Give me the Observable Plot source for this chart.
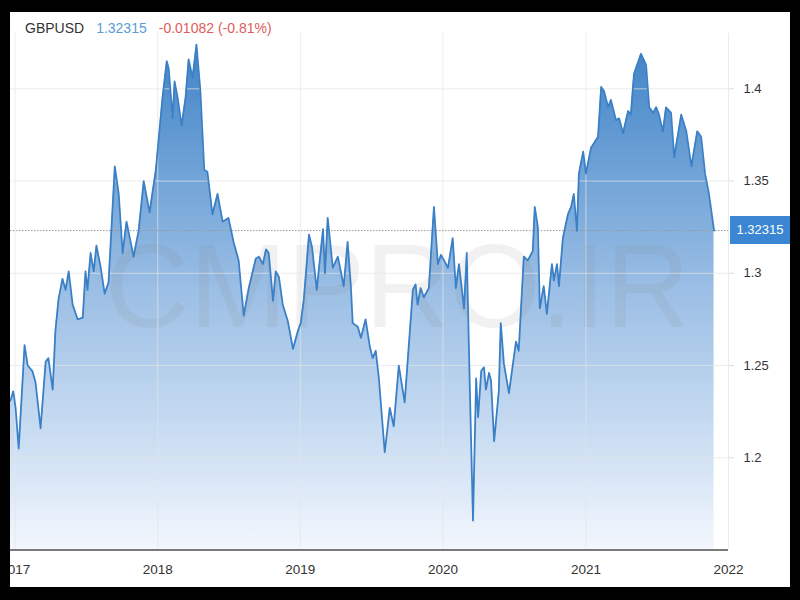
<!DOCTYPE html>
<html>
<head>
<meta charset="utf-8">
<script src="https://cdn.jsdelivr.net/npm/d3@7"></script>
<script src="https://cdn.jsdelivr.net/npm/@observablehq/plot@0.6"></script>
<style>
  html, body { margin: 0; padding: 0; background: #000; width: 800px; height: 600px; overflow: hidden; }
  #frame { position: absolute; left: 10px; top: 12px; width: 780px; height: 575px; background: #fff; overflow: hidden;
           font-family: "Liberation Sans", Arial, sans-serif; }
  #header { position: absolute; left: 15px; top: 8px; font-size: 14px; line-height: 16px; white-space: nowrap; z-index: 3; }
  #header span { margin-right: 12px; }
  #chart { position: absolute; left: 0; top: 0; }
  #pricebox { position: absolute; left: 720px; width: 60px; height: 28px; background: #3a86d3; color: #fff;
              font-size: 13px; line-height: 28px; text-align: center; z-index: 3; }
</style>
</head>
<body>
<div id="frame">
  <div id="header"><span style="color:#333">GBPUSD</span><span style="color:#5b9bd5">1.32315</span><span style="color:#e05c5c">-0.01082 (-0.81%)</span></div>
  <div id="chart"></div>
  <div id="pricebox">1.32315</div>
</div>
<script>
const symbol = "GBPUSD";
const lastPrice = 1.32315;

const dates = [
  "2016-12-20","2016-12-27","2017-01-02","2017-01-10","2017-01-25","2017-02-02","2017-02-14","2017-02-22","2017-03-07","2017-03-20","2017-03-27","2017-04-07","2017-04-14","2017-04-22","2017-05-02","2017-05-10","2017-05-18","2017-05-28","2017-06-10","2017-06-23","2017-06-30","2017-07-05","2017-07-13","2017-07-21","2017-07-28","2017-08-08","2017-08-18","2017-08-28","2017-09-13","2017-09-23","2017-10-03","2017-10-13","2017-10-31","2017-11-13","2017-11-26","2017-12-11","2017-12-27",
  "2018-01-03","2018-01-13","2018-01-24","2018-01-29","2018-02-08","2018-02-13","2018-02-21","2018-03-03","2018-03-13","2018-03-21","2018-03-31","2018-04-10","2018-04-20","2018-04-30","2018-05-08","2018-05-21","2018-06-03","2018-06-16","2018-07-01","2018-07-14","2018-07-27","2018-08-09","2018-08-22","2018-09-09","2018-09-17","2018-09-27","2018-10-05","2018-10-12","2018-10-23","2018-10-30","2018-11-07","2018-11-17","2018-11-30","2018-12-13","2018-12-26",
  "2019-01-02","2019-01-10","2019-01-23","2019-01-31","2019-02-12","2019-02-28","2019-03-05","2019-03-12","2019-03-25","2019-04-07","2019-04-22","2019-05-02","2019-05-10","2019-05-15","2019-05-28","2019-06-05","2019-06-17","2019-06-28","2019-07-05","2019-07-13","2019-07-21","2019-08-05","2019-08-18","2019-08-28","2019-09-10","2019-09-25","2019-10-16","2019-10-23","2019-10-28","2019-11-05","2019-11-13","2019-11-26","2019-12-09","2019-12-19","2019-12-27",
  "2020-01-14","2020-01-26","2020-02-03","2020-02-11","2020-02-24","2020-03-02","2020-03-10","2020-03-18","2020-03-26","2020-03-31","2020-04-08","2020-04-15","2020-04-20","2020-04-28","2020-05-03","2020-05-11","2020-05-23","2020-05-28","2020-06-05","2020-06-18","2020-07-06","2020-07-13","2020-07-26","2020-08-05","2020-08-18","2020-08-23","2020-08-31","2020-09-05","2020-09-15","2020-09-23","2020-10-06","2020-10-11","2020-10-19","2020-10-24","2020-11-03","2020-11-16","2020-11-24","2020-12-01","2020-12-09","2020-12-14","2020-12-25",
  "2021-01-01","2021-01-14","2021-02-01","2021-02-09","2021-02-16","2021-02-27","2021-03-06","2021-03-19","2021-03-27","2021-04-06","2021-04-19","2021-04-26","2021-05-04","2021-05-22","2021-06-04","2021-06-12","2021-06-22","2021-06-30","2021-07-07","2021-07-17","2021-07-25","2021-08-07","2021-08-15","2021-09-02","2021-09-15","2021-09-28","2021-10-13","2021-10-23","2021-11-02","2021-11-12","2021-11-25"
];

const values = [
  1.231,1.236,1.227,1.205,1.261,1.250,1.247,1.241,1.216,1.252,1.254,1.237,1.269,1.286,1.297,1.291,1.301,1.283,1.275,1.276,1.301,1.291,1.311,1.301,1.315,1.303,1.289,1.295,1.358,1.343,1.311,1.328,1.309,1.323,1.350,1.333,1.356,
  1.372,1.395,1.415,1.411,1.384,1.404,1.395,1.380,1.395,1.416,1.406,1.424,1.399,1.356,1.355,1.332,1.343,1.328,1.330,1.317,1.307,1.277,1.292,1.308,1.309,1.305,1.313,1.311,1.285,1.301,1.298,1.283,1.274,1.259,1.269,
  1.273,1.286,1.321,1.314,1.291,1.324,1.300,1.330,1.303,1.309,1.293,1.317,1.294,1.273,1.271,1.265,1.275,1.260,1.254,1.258,1.243,1.203,1.227,1.217,1.250,1.230,1.291,1.294,1.283,1.292,1.287,1.292,1.336,1.305,1.310,
  1.303,1.319,1.292,1.305,1.281,1.311,1.236,1.166,1.243,1.222,1.247,1.249,1.237,1.246,1.242,1.209,1.236,1.273,1.251,1.235,1.263,1.258,1.309,1.307,1.312,1.336,1.325,1.281,1.293,1.278,1.305,1.296,1.305,1.293,1.319,1.332,1.336,1.343,1.323,1.354,1.366,
  1.354,1.368,1.374,1.401,1.399,1.390,1.394,1.383,1.384,1.376,1.388,1.386,1.408,1.419,1.413,1.390,1.387,1.390,1.386,1.377,1.390,1.387,1.363,1.386,1.377,1.358,1.377,1.374,1.354,1.343,1.32315
];

const xTicks = ["2017-01-01","2018-01-01","2019-01-01","2020-01-01","2021-01-01","2022-01-01"].map(d => new Date(d));
const yTicks = [1.2, 1.25, 1.3, 1.35, 1.4];
const watermark = "CMPRO.IR";

const data = dates.map((d, i) => ({date: new Date(d), value: values[i]}));

// use a naturally narrow face for the watermark when it is installed
function hasFont(name) {
  const c = document.createElement("canvas").getContext("2d");
  const s = "CMPRO.IR mmwwii 0123";
  c.font = "72px monospace"; const a = c.measureText(s).width;
  c.font = `72px '${name}', monospace`; const b = c.measureText(s).width;
  return a !== b;
}
const narrow = hasFont("Liberation Sans Narrow");
const wmFont = narrow ? "'Liberation Sans Narrow', 'Liberation Sans', Arial, sans-serif" : "'Liberation Sans', Arial, sans-serif";
const wmSize = narrow ? 148 : 118;

const W = 780, H = 575;
const mT = 21, mB = 37.5, mL = 0, mR = 62;
const yMin = 1.15, yMax = 1.43;

const chart = Plot.plot({
  width: W,
  height: H,
  marginTop: mT,
  marginBottom: mB,
  marginLeft: mL,
  marginRight: mR,
  style: {background: "transparent", fontFamily: "'Liberation Sans', Arial, sans-serif", overflow: "hidden"},
  x: {type: "utc", domain: [new Date("2016-12-20"), new Date("2022-01-01")]},
  y: {domain: [yMin, yMax]},
  marks: [
    Plot.areaY(data, {x: "date", y1: yMin, y2: "value", fill: "url(#gbpGrad)"}),
    Plot.text([watermark], {frameAnchor: "middle", dx: 28, dy: -3, text: d => d, fontSize: wmSize, fill: "#7f7f7f", fillOpacity: 0.11, fontFamily: wmFont}),
    Plot.gridY(yTicks, {stroke: "#e4e4e4", strokeOpacity: 0.7}),
    Plot.gridX(xTicks, {stroke: "#e4e4e4", strokeOpacity: 0.7}),
    Plot.ruleY([lastPrice], {stroke: "#9a9a9a", strokeDasharray: "1.5,1.5", strokeWidth: 1}),
    Plot.lineY(data, {x: "date", y: "value", stroke: "#3b80c6", strokeWidth: 1.8}),
    Plot.ruleY([yMin], {stroke: "#7a7a7a", strokeWidth: 2}),
    Plot.axisY(yTicks, {anchor: "right", tickSize: 5, tickPadding: 10, stroke: "#dcdcdc", fill: "#333", fontSize: 13, tickFormat: d => String(d), label: null}),
    Plot.axisX(xTicks, {anchor: "bottom", tickSize: 0, tickPadding: 14, fill: "#333", fontSize: 13.5, tickFormat: d3.utcFormat("%Y"), label: null})
  ]
});

// gradient definition for the area fill
const svg = d3.select(chart);
const defs = svg.insert("defs", ":first-child");
const grad = defs.append("linearGradient")
  .attr("id", "gbpGrad")
  .attr("gradientUnits", "userSpaceOnUse")
  .attr("x1", 0).attr("x2", 0)
  .attr("y1", mT).attr("y2", H - mB);
[[0, "#3d7fc3"], [0.15, "#5994cf"], [0.5, "#9cbfe5"], [0.8, "#cddff3"], [1, "#f3f7fd"]]
  .forEach(([o, c]) => grad.append("stop").attr("offset", o).attr("stop-color", c));

// fit the watermark to the width of the reference lettering
svg.selectAll('g[aria-label="text"] text').attr("textLength", 585).attr("lengthAdjust", "spacingAndGlyphs");

document.getElementById("chart").appendChild(chart);

// position price label on the y scale
const py = chart.scale("y").apply(lastPrice);
document.getElementById("pricebox").style.top = (py - 14) + "px";
</script>
</body>
</html>
